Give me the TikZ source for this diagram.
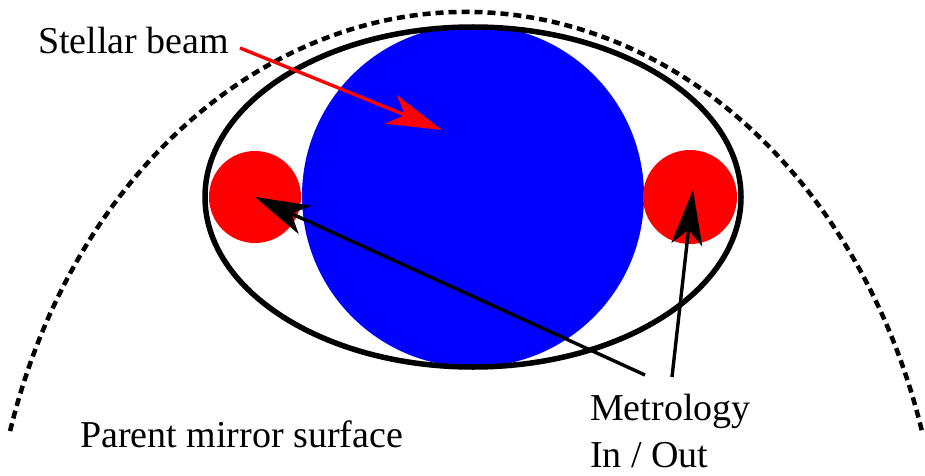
\documentclass[tikz,border=0pt]{standalone}
\usepackage{fontspec}
\setmainfont{Liberation Serif}
\usetikzlibrary{arrows.meta}
\begin{document}
\begin{tikzpicture}[x=1pt,y=1pt,
  lbl/.style={font=\fontsize{38}{47}\selectfont, inner sep=0pt, anchor=base west, align=left},
  bigtip/.style={-{Stealth[length=55pt,width=31pt,inset=15pt]}},
  pointer/.style={bigtip, line width=3.4pt}]
\useasboundingbox (0,0) rectangle (925,475);
% parent mirror surface (dashed)
\draw[line width=4.5pt, dash pattern=on 8pt off 5pt] ([shift={(163.3:476 and 588)}]466,-125) arc[start angle=163.3, end angle=16.7, x radius=476, y radius=588];
% stellar beam
\fill[blue] (473,279) circle[radius=171] coordinate (beam);
% metrology spots
\fill[red] (255,278) circle[radius=46];
\fill[red] (690,278) circle[radius=47];
% aperture ellipse
\draw[line width=5.5pt] (473,278) ellipse[x radius=268, y radius=170];
% labels
\node[lbl] (stellar) at (38,421) {Stellar beam};
\node[lbl] (parent) at (80,28) {Parent mirror surface};
\node[lbl] (metro) at (590,8) {Metrology\\In / Out};
% arrow end points
\coordinate (rs) at (240,427);
\coordinate (rt) at (442,345);
\coordinate (m1s) at (645,100);
\coordinate (m1t) at (255,278);
\coordinate (m2s) at (672,98);
\coordinate (m2t) at (693,285);
\draw[pointer, red] (rs) -- (rt);
\draw[pointer] (m1s) -- (m1t);
\draw[pointer] (m2s) -- (m2t);
\end{tikzpicture}
\end{document}
